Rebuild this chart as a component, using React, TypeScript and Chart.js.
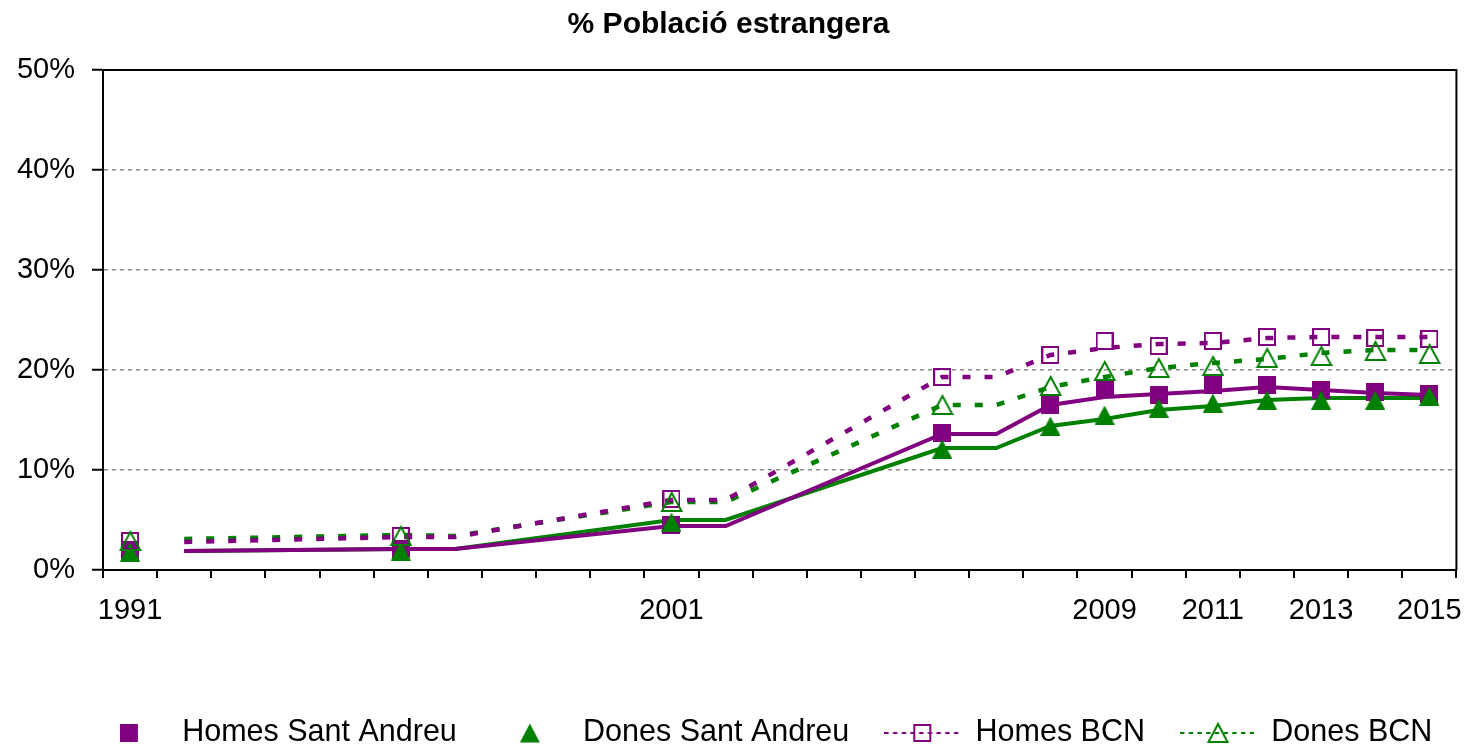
import React, { useEffect, useRef } from 'react';
import { Chart, registerables } from 'chart.js';

Chart.register(...registerables);

// ---- data ----
const years = [
  '1991', '1992', '1993', '1994', '1995', '1996', '1997', '1998', '1999', '2000',
  '2001', '2002', '2003', '2004', '2005', '2006', '2007', '2008', '2009', '2010',
  '2011', '2012', '2013', '2014', '2015',
];
const shownYears = ['1991', '2001', '2009', '2011', '2013', '2015'];
const yTicks = [0, 10, 20, 30, 40, 50];

// marker series (years where a marker is drawn)
const markerYears = ['1991', '1996', '2001', '2006', '2008', '2009', '2010', '2011', '2012', '2013', '2014', '2015'];
const homesSantAndreu = [2.0, 2.1, 4.5, 13.7, 16.5, 18.1, 17.5, 18.5, 18.5, 18.0, 17.8, 17.6];
const donesSantAndreu = [1.8, 1.9, 4.8, 12.1, 14.4, 15.5, 16.2, 16.7, 17.0, 17.0, 17.0, 17.4];
const homesBCN = [2.9, 3.4, 7.1, 19.3, 21.5, 22.9, 22.4, 22.9, 23.3, 23.3, 23.2, 23.1];
const donesBCN = [2.9, 3.4, 6.8, 16.5, 18.4, 19.9, 20.2, 20.4, 21.2, 21.4, 21.9, 21.6];

// line series (years where the connecting lines have a vertex)
const lineYears = ['1992', '1996', '1997', '2001', '2002', '2006', '2007', '2008', '2009', '2010', '2011', '2012', '2013', '2014', '2015'];
const homesSantAndreuLine = [1.9, 2.1, 2.1, 4.4, 4.4, 13.6, 13.6, 16.5, 17.3, 17.6, 17.9, 18.3, 18.0, 17.7, 17.5];
const donesSantAndreuLine = [1.9, 2.1, 2.1, 5.0, 5.0, 12.2, 12.2, 14.4, 15.1, 16.0, 16.4, 17.0, 17.2, 17.2, 17.2];
const homesBCNLine = [2.8, 3.3, 3.3, 7.0, 7.0, 19.3, 19.3, 21.5, 22.2, 22.6, 22.7, 23.2, 23.3, 23.3, 23.3];
const donesBCNLine = [3.1, 3.5, 3.4, 6.8, 6.8, 16.5, 16.5, 18.3, 19.3, 20.2, 20.7, 21.1, 21.7, 22.0, 22.0];

const legendLabels = ['Homes Sant Andreu', 'Dones Sant Andreu', 'Homes BCN', 'Dones BCN'];
const titleText = '% Població estrangera';

// ---- styles ----
const PURPLE = '#800080';
const GREEN = '#008000';
const FONT = "'Liberation Sans', Arial, Helvetica, sans-serif";

function toSeries(keys: string[], values: number[]) {
  return years.map((y) => {
    const i = keys.indexOf(y);
    return i >= 0 ? values[i] : null;
  });
}

function makeCanvas(w: number, h: number, draw: (ctx: CanvasRenderingContext2D) => void) {
  const c = document.createElement('canvas');
  c.width = w;
  c.height = h;
  const ctx = c.getContext('2d') as CanvasRenderingContext2D;
  draw(ctx);
  return c;
}

function triPath(ctx: CanvasRenderingContext2D, cx: number, top: number, w: number, h: number) {
  ctx.beginPath();
  ctx.moveTo(cx, top);
  ctx.lineTo(cx + w / 2, top + h);
  ctx.lineTo(cx - w / 2, top + h);
  ctx.closePath();
}

function filledSquare(size: number, color: string) {
  return makeCanvas(size, size, (ctx) => {
    ctx.fillStyle = color;
    ctx.fillRect(0, 0, size, size);
  });
}
function openSquare(size: number, color: string, lw: number) {
  return makeCanvas(size, size, (ctx) => {
    ctx.strokeStyle = color;
    ctx.lineWidth = lw;
    ctx.strokeRect(lw / 2, lw / 2, size - lw, size - lw);
  });
}
function filledTriangle(w: number, h: number, color: string) {
  return makeCanvas(w, h, (ctx) => {
    ctx.fillStyle = color;
    triPath(ctx, w / 2, 0, w, h);
    ctx.fill();
  });
}
function openTriangle(w: number, h: number, color: string, lw: number) {
  return makeCanvas(w + 2 * lw, h + 2 * lw, (ctx) => {
    ctx.strokeStyle = color;
    ctx.lineWidth = lw;
    ctx.lineJoin = 'miter';
    triPath(ctx, w / 2 + lw, lw, w, h);
    ctx.stroke();
  });
}

function legendSymbol(kind: number) {
  const W = 76;
  const H = 24;
  return makeCanvas(W, H, (ctx) => {
    const cx = W / 2;
    const cy = H / 2;
    if (kind === 0) {
      ctx.fillStyle = PURPLE;
      ctx.fillRect(cx - 9, cy - 9, 18, 18);
    } else if (kind === 1) {
      ctx.fillStyle = GREEN;
      triPath(ctx, cx, cy - 9.5, 20, 19);
      ctx.fill();
    } else {
      const color = kind === 2 ? PURPLE : GREEN;
      ctx.strokeStyle = color;
      ctx.lineWidth = 2;
      ctx.setLineDash([4.4, 4.3]);
      ctx.beginPath();
      ctx.moveTo(0, cy);
      ctx.lineTo(W, cy);
      ctx.stroke();
      ctx.setLineDash([]);
      if (kind === 2) {
        ctx.strokeRect(cx - 8, cy - 8, 16, 16);
      } else {
        triPath(ctx, cx, cy - 9, 19, 18);
        ctx.stroke();
      }
    }
  });
}

const framePlugin = {
  id: 'plotFrame',
  beforeDatasetsDraw(chart: any) {
    const { ctx, chartArea: a } = chart;
    ctx.save();
    ctx.strokeStyle = '#000';
    ctx.lineWidth = 2;
    ctx.beginPath();
    ctx.moveTo(a.left, a.top);
    ctx.lineTo(a.right, a.top);
    ctx.lineTo(a.right, a.bottom);
    ctx.stroke();
    ctx.restore();
  },
};

export default function App() {
  const ref = useRef<HTMLCanvasElement>(null);

  useEffect(() => {
    if (!ref.current) return;
    Chart.defaults.font.family = FONT;

    const sqFilled = filledSquare(18, PURPLE);
    const sqOpen = openSquare(18, PURPLE, 2);
    const triFilled = filledTriangle(20, 19, GREEN);
    const triOpen = openTriangle(19.5, 18, GREEN, 2);

    const legendItems = legendLabels.map((text, i) => ({
      text,
      pointStyle: legendSymbol(i),
      fillStyle: 'rgba(0,0,0,0)',
      strokeStyle: 'rgba(0,0,0,0)',
      lineWidth: 0,
      hidden: false,
      datasetIndex: i,
      fontColor: '#000',
    }));

    const markerDs = (label: string, values: number[], img: HTMLCanvasElement, order: number) => ({
      label,
      data: toSeries(markerYears, values),
      showLine: false,
      pointStyle: img,
      pointRadius: 9,
      pointHoverRadius: 9,
      order,
    });
    const lineDs = (label: string, values: number[], color: string, dashed: boolean, order: number) => ({
      label,
      data: toSeries(lineYears, values),
      borderColor: color,
      backgroundColor: color,
      borderWidth: dashed ? 4.5 : 4,
      borderDash: dashed ? [8, 14] : [],
      borderCapStyle: 'butt',
      pointRadius: 0,
      pointHoverRadius: 0,
      tension: 0,
      spanGaps: true,
      fill: false,
      order,
    });

    const chart = new Chart(ref.current, {
      type: 'line',
      data: {
        labels: years,
        datasets: [
          markerDs(legendLabels[0], homesSantAndreu, sqFilled, 4),
          markerDs(legendLabels[1], donesSantAndreu, triFilled, 3),
          markerDs(legendLabels[2], homesBCN, sqOpen, 2),
          markerDs(legendLabels[3], donesBCN, triOpen, 1),
          lineDs(legendLabels[0] + ' línia', homesSantAndreuLine, PURPLE, false, 5),
          lineDs(legendLabels[1] + ' línia', donesSantAndreuLine, GREEN, false, 6),
          lineDs(legendLabels[2] + ' línia', homesBCNLine, PURPLE, true, 7),
          lineDs(legendLabels[3] + ' línia', donesBCNLine, GREEN, true, 8),
        ] as any,
      },
      options: {
        responsive: false,
        animation: false,
        devicePixelRatio: 1,
        events: [],
        layout: { padding: { left: -10.3, right: 10.7, top: 0, bottom: -9.25 } },
        plugins: {
          title: {
            display: true,
            text: titleText,
            color: '#000',
            font: { size: 30, weight: 'bold', family: FONT },
            padding: { top: 7, bottom: 27 },
          },
          legend: {
            display: true,
            position: 'bottom',
            align: 'end',
            labels: {
              usePointStyle: true,
              pointStyleWidth: 76,
              padding: 35,
              color: '#000',
              font: { size: 30.5, family: FONT },
              generateLabels: () => legendItems as any,
            },
          },
          tooltip: { enabled: false },
        },
        scales: {
          x: {
            type: 'category',
            offset: true,
            grid: {
              offset: true,
              display: true,
              drawOnChartArea: false,
              drawTicks: true,
              tickLength: 8,
              color: '#000',
              tickColor: '#000',
              tickWidth: 2,
              lineWidth: 2,
            },
            border: { display: true, color: '#000', width: 2 },
            ticks: {
              autoSkip: false,
              maxRotation: 0,
              minRotation: 0,
              padding: 16,
              color: '#000',
              font: { size: 29, family: FONT },
              callback: (_v: any, i: number) => (shownYears.includes(years[i]) ? years[i] : ''),
            },
            afterFit: (s: any) => {
              s.height = 112.75;
            },
          },
          y: {
            type: 'linear',
            position: 'left',
            min: yTicks[0],
            max: yTicks[yTicks.length - 1],
            afterBuildTicks: (s: any) => {
              s.ticks = yTicks.map((v) => ({ value: v }));
            },
            ticks: {
              padding: 17,
              color: '#000',
              font: { size: 29, family: FONT },
              callback: (v: any) => v + '%',
            },
            grid: {
              display: true,
              drawOnChartArea: true,
              drawTicks: true,
              color: (c: any) => (c.tick && c.tick.value === 0 ? 'rgba(0,0,0,0)' : '#8c8c8c'),
              lineWidth: 1.5,
              tickLength: 11,
              tickColor: '#000',
              tickWidth: 2,
              tickBorderDash: [],
            },
            border: { display: true, color: '#000', width: 2, dash: [4, 4] },
            afterFit: (s: any) => {
              s.width = 113.3;
            },
          },
          y2: {
            type: 'linear',
            position: 'right',
            display: true,
            grid: { display: false, drawTicks: false },
            ticks: { display: false },
            border: { display: false },
            afterFit: (s: any) => {
              s.width = 8.3;
            },
          },
        },
      } as any,
      plugins: [framePlugin],
    });

    return () => chart.destroy();
  }, []);

  return (
    <div style={{ position: 'absolute', left: 0, top: 0, width: 1478, height: 749, background: '#fff' }}>
      <canvas ref={ref} width={1478} height={749} style={{ display: 'block' }} />
    </div>
  );
}
